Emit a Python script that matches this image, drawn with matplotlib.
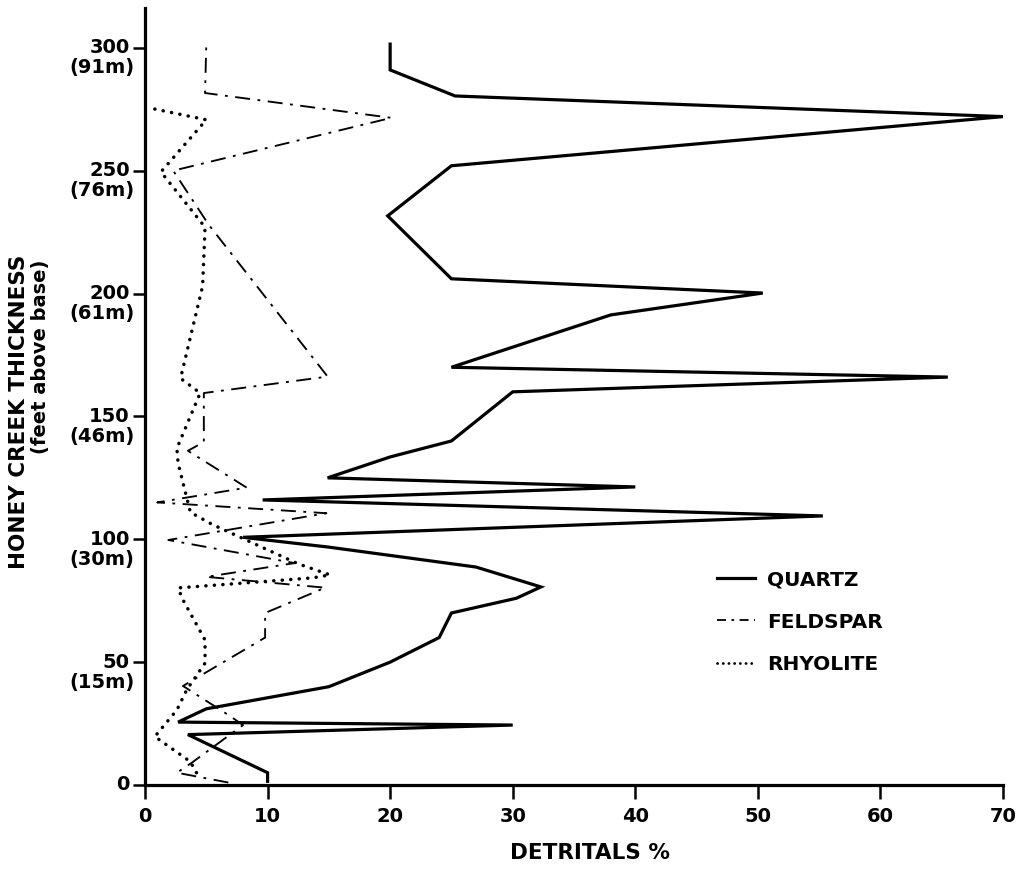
import matplotlib
matplotlib.use("Agg")
import matplotlib.pyplot as plt
from matplotlib.lines import Line2D

# ---------------- data ----------------
quartz_pct = [10, 10, 3.5, 30, 2.7, 5, 15, 20, 24, 25, 30.3, 32.3, 27, 15, 8,
              55.3, 9.6, 40, 14.9, 20, 25, 30, 65.5, 25, 38, 50.4, 25, 19.8,
              25, 70, 25.3, 20, 20]
quartz_ft = [1.5, 5, 20.5, 24.4, 25.6, 31, 40, 50, 60, 70, 76, 80.6, 88.7, 96.8,
             100.8, 109.5, 116, 121.3, 125, 133.5, 140, 160, 166, 170, 191.3,
             200.2, 206, 231.6, 252, 272, 280.4, 291, 301.5]

feldspar_pct = [6.8, 2.6, 3.8, 8.0, 6.8, 3.1, 9.8, 9.8, 14.7, 5.0, 12.2, 1.9,
                14.8, 1.0, 8.3, 3.5, 4.8, 4.8, 14.9, 5.2, 2.3, 20.1, 4.9, 5.0]
feldspar_ft = [1, 5, 9, 24.4, 28.5, 40.3, 60, 70, 80.3, 84.7, 90.3, 99.7,
               110.6, 115, 121, 136, 139.6, 159.5, 166.2, 228, 250, 271.5,
               281.6, 301.5]

rhyolite_pct = [4.2, 3.7, 0.8, 2.6, 3.4, 4.9, 4.9, 3.1, 2.7, 13.7, 15.1, 12.5,
                5.5, 3.7, 3.3, 2.7, 2.6, 4.5, 2.9, 4.7, 4.9, 1.3, 5.0, 0.4]
rhyolite_ft = [5, 9.5, 19.7, 30.5, 38.7, 49.6, 59, 75.3, 80.2, 84.3, 85.5, 90,
               106, 111, 119, 131, 137, 159.5, 165.5, 203, 227, 249.5, 270.7,
               275.5]

x_ticks = [0, 10, 20, 30, 40, 50, 60, 70]
y_ticks = [0, 50, 100, 150, 200, 250, 300]
y_metric = ["", "(15m)", "(30m)", "(46m)", "(61m)", "(76m)", "(91m)"]
series_names = ["QUARTZ", "FELDSPAR", "RHYOLITE"]

# ---------------- figure ----------------
plt.rcParams['font.family'] = ['DejaVu Sans']
plt.rcParams['font.weight'] = 'bold'

W, H = 1024, 884
fig = plt.figure(figsize=(W / 100, H / 100), dpi=100)
ax = fig.add_axes([145 / W, 1 - 785 / H, (1003 - 145) / W, (785 - 8) / H])

ax.plot(quartz_pct, quartz_ft, color='black', lw=2.3, solid_joinstyle='miter')
ax.plot(feldspar_pct, feldspar_ft, color='black', lw=1.35,
        dashes=(8, 4, 1.5, 4))
ax.plot(rhyolite_pct, rhyolite_ft, color='black', lw=2.5,
        linestyle=(0, (0.05, 2.4)), dash_capstyle='round')

ax.set_xlim(0, 70)
ax.set_ylim(0, 316.2)
for s in ['top', 'right']:
    ax.spines[s].set_visible(False)
for s in ['left', 'bottom']:
    ax.spines[s].set_linewidth(2.3)

ax.set_xticks(x_ticks)
ax.set_xticklabels([str(v) for v in x_ticks], fontsize=14, fontweight='bold')
ax.tick_params(axis='x', direction='out', length=10, width=1.8, pad=6)
ax.set_yticks(y_ticks)
ax.set_yticklabels([])
ax.tick_params(axis='y', direction='out', length=8.5, width=1.8)

for v, m in zip(y_ticks, y_metric):
    ax.annotate(str(v), xy=(0, v), xycoords=('axes fraction', 'data'),
                xytext=(-11, 0), textcoords='offset points',
                ha='right', va='center', fontsize=14, fontweight='bold')
    if m:
        ax.annotate(m, xy=(0, v), xycoords=('axes fraction', 'data'),
                    xytext=(-7.5, -14.5), textcoords='offset points',
                    ha='right', va='center', fontsize=14, fontweight='bold')

fig.text(19 / W, 1 - 255 / H, "HONEY CREEK THICKNESS", rotation=90,
         ha='center', va='top', fontsize=15.5, fontweight='bold')
fig.text(41 / W, 1 - 260 / H, "(feet above base)", rotation=90,
         ha='center', va='top', fontsize=14, fontweight='bold')
fig.text(590 / W, 1 - 853 / H, "DETRITALS %", ha='center', va='center',
         fontsize=15.5, fontweight='bold')

handles = [
    Line2D([], [], color='black', lw=2.3),
    Line2D([], [], color='black', lw=1.3, dashes=(5, 3, 1.5, 3)),
    Line2D([], [], color='black', lw=2.0, linestyle=(0, (0.05, 2.0)),
           dash_capstyle='round'),
]
leg = ax.legend(handles, series_names, loc='center left',
                bbox_to_anchor=((699 - 145) / 858, (785 - 622) / 777),
                frameon=False, handlelength=1.9, handletextpad=0.6,
                labelspacing=1.15, prop={'size': 14.5, 'weight': 'bold'})

fig.savefig("out.png", dpi=100)
